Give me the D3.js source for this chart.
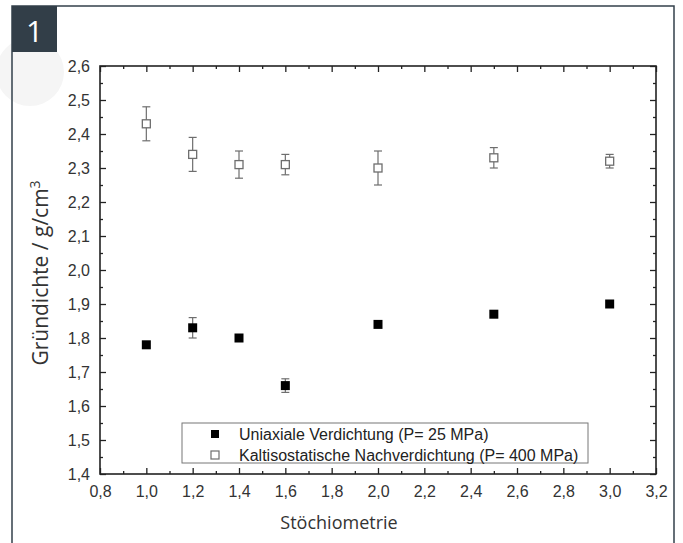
<!DOCTYPE html>
<html lang="de">
<head>
<meta charset="UTF-8">
<title>Gründichte</title>
<script src="https://d3js.org/d3.v7.min.js"></script>
<style>
  body { margin: 0; background: #fff; }
  svg { display: block; }
</style>
</head>
<body>
<div id="chart"></div>
<script>
// Werte
const stoich = [1.0, 1.2, 1.4, 1.6, 2.0, 2.5, 3.0];
const uniaxial = [1.78, 1.83, 1.80, 1.66, 1.84, 1.87, 1.90];
const uniaxialErr = [0, 0.03, 0, 0.02, 0, 0, 0];
const kalt = [2.43, 2.34, 2.31, 2.31, 2.30, 2.33, 2.32];
const kaltErr = [0.05, 0.05, 0.04, 0.03, 0.05, 0.03, 0.02];
const xTicks = [0.8, 1.0, 1.2, 1.4, 1.6, 1.8, 2.0, 2.2, 2.4, 2.6, 2.8, 3.0, 3.2];
const yTicks = [1.4, 1.5, 1.6, 1.7, 1.8, 1.9, 2.0, 2.1, 2.2, 2.3, 2.4, 2.5, 2.6];
const seriesNames = ["Uniaxiale Verdichtung (P= 25 MPa)", "Kaltisostatische Nachverdichtung (P= 400 MPa)"];

const width = 683, height = 543;
const plot = { left: 100, top: 66, right: 656, bottom: 474 };

const svg = d3.select("#chart").append("svg")
  .attr("width", width)
  .attr("height", height);

// Rahmen und Nummer
svg.append("circle").attr("cx", 30).attr("cy", 72).attr("r", 34).attr("fill", "#f5f5f5");
svg.append("path")
  .attr("d", `M12,${height} V6 H674 V${height}`)
  .attr("fill", "none").attr("stroke", "#33404b").attr("stroke-width", 1.5);
svg.append("rect").attr("x", 12).attr("y", 6).attr("width", 45).attr("height", 46).attr("fill", "#323e48");
svg.append("text").attr("x", 34.5).attr("y", 42).attr("text-anchor", "middle")
  .attr("font-family", "'Open Sans', sans-serif").attr("font-size", 30).attr("fill", "#fff").text("1");

const x = d3.scaleLinear().domain([0.8, 3.2]).range([plot.left, plot.right]);
const y = d3.scaleLinear().domain([1.4, 2.6]).range([plot.bottom, plot.top]);

const fmt = d => d3.format(".1f")(d).replace(".", ",");
const minorX = d3.range(0.9, 3.2, 0.2);
const minorY = d3.range(1.45, 2.6, 0.1);
const axisColor = "#222";

function styleAxis(g) {
  g.select(".domain").remove();
  g.selectAll("line").attr("stroke", axisColor).attr("stroke-width", 1.3);
  g.selectAll("text").attr("font-family", "'Liberation Sans', Arial, sans-serif")
    .attr("font-size", 16).attr("fill", "#333");
}

// untere Achse
svg.append("g").attr("transform", `translate(0,${plot.bottom})`)
  .call(d3.axisBottom(x).tickValues(xTicks).tickFormat(fmt).tickSize(-6).tickPadding(12))
  .call(styleAxis);
svg.append("g").attr("transform", `translate(0,${plot.bottom})`)
  .call(d3.axisBottom(x).tickValues(minorX).tickFormat("").tickSize(-3))
  .call(styleAxis);
// obere Achse
svg.append("g").attr("transform", `translate(0,${plot.top})`)
  .call(d3.axisTop(x).tickValues(xTicks).tickFormat("").tickSize(-6))
  .call(styleAxis);
svg.append("g").attr("transform", `translate(0,${plot.top})`)
  .call(d3.axisTop(x).tickValues(minorX).tickFormat("").tickSize(-3))
  .call(styleAxis);
// linke Achse
svg.append("g").attr("transform", `translate(${plot.left},0)`)
  .call(d3.axisLeft(y).tickValues(yTicks).tickFormat(fmt).tickSize(-6).tickPadding(10))
  .call(styleAxis);
svg.append("g").attr("transform", `translate(${plot.left},0)`)
  .call(d3.axisLeft(y).tickValues(minorY).tickFormat("").tickSize(-3))
  .call(styleAxis);
// rechte Achse
svg.append("g").attr("transform", `translate(${plot.right},0)`)
  .call(d3.axisRight(y).tickValues(yTicks).tickFormat("").tickSize(-6))
  .call(styleAxis);
svg.append("g").attr("transform", `translate(${plot.right},0)`)
  .call(d3.axisRight(y).tickValues(minorY).tickFormat("").tickSize(-3))
  .call(styleAxis);

svg.append("rect")
  .attr("x", plot.left).attr("y", plot.top)
  .attr("width", plot.right - plot.left).attr("height", plot.bottom - plot.top)
  .attr("fill", "none").attr("stroke", axisColor).attr("stroke-width", 1.6);

// Fehlerbalken
const errColor = "#6e6e6e";
function errorBars(vals, errs) {
  const g = svg.append("g").attr("stroke", errColor).attr("stroke-width", 1.2).attr("fill", "none");
  stoich.forEach((s, i) => {
    if (!errs[i]) return;
    const cx = x(s), y1 = y(vals[i] + errs[i]), y2 = y(vals[i] - errs[i]);
    g.append("line").attr("x1", cx).attr("x2", cx).attr("y1", y1).attr("y2", y2);
    g.append("line").attr("x1", cx - 4).attr("x2", cx + 4).attr("y1", y1).attr("y2", y1);
    g.append("line").attr("x1", cx - 4).attr("x2", cx + 4).attr("y1", y2).attr("y2", y2);
  });
}
errorBars(kalt, kaltErr);
errorBars(uniaxial, uniaxialErr);

const ms = 9;
svg.append("g").selectAll("rect").data(stoich).join("rect")
  .attr("x", d => x(d) - ms / 2)
  .attr("y", (d, i) => y(uniaxial[i]) - ms / 2)
  .attr("width", ms).attr("height", ms)
  .attr("fill", "#000");

const mo = 8;
svg.append("g").selectAll("rect").data(stoich).join("rect")
  .attr("x", d => x(d) - mo / 2)
  .attr("y", (d, i) => y(kalt[i]) - mo / 2)
  .attr("width", mo).attr("height", mo)
  .attr("fill", "#fff").attr("stroke", errColor).attr("stroke-width", 1.3);

// Legende
const leg = svg.append("g");
leg.append("rect").attr("x", 182).attr("y", 423).attr("width", 406).attr("height", 40)
  .attr("fill", "#fff").attr("stroke", "#777").attr("stroke-width", 1);
seriesNames.forEach((name, i) => {
  const ly = 434 + i * 21;
  leg.append("rect").attr("x", 211).attr("y", ly - 4).attr("width", 8).attr("height", 8)
    .attr("fill", i === 0 ? "#000" : "#fff")
    .attr("stroke", i === 0 ? "none" : errColor).attr("stroke-width", 1.2);
  leg.append("text").attr("x", 239).attr("y", ly + 5.5)
    .attr("font-family", "'Liberation Sans', Arial, sans-serif").attr("font-size", 16)
    .attr("fill", "#222").text(name);
});

// Achsentitel
svg.append("text").attr("x", 339).attr("y", 529).attr("text-anchor", "middle")
  .attr("font-family", "'Open Sans', sans-serif").attr("font-size", 18).attr("fill", "#333")
  .text("Stöchiometrie");
const yt = svg.append("text")
  .attr("transform", "translate(48,273) rotate(-90)")
  .attr("text-anchor", "middle")
  .attr("font-family", "'Open Sans', sans-serif").attr("font-size", 21).attr("fill", "#333");
yt.append("tspan").text("Gründichte / g/cm");
yt.append("tspan").attr("dy", -8).attr("font-size", 14).text("3");
</script>
</body>
</html>
